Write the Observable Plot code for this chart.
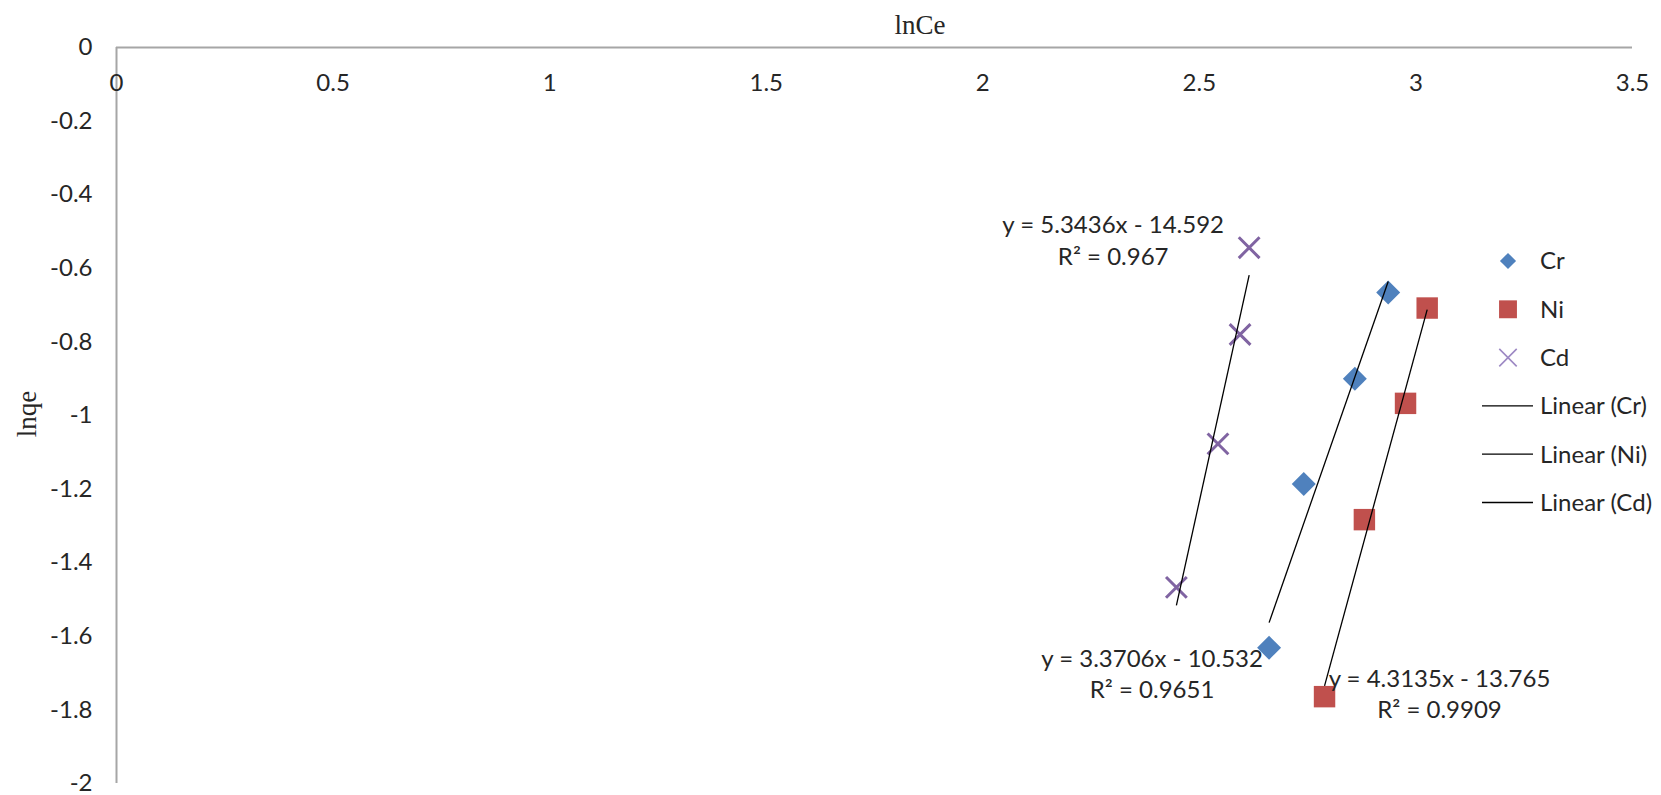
<!DOCTYPE html>
<html><head><meta charset="utf-8">
<script src="https://cdn.jsdelivr.net/npm/d3@7"></script>
<script src="https://cdn.jsdelivr.net/npm/@observablehq/plot@0.6"></script>
<style>body{margin:0;background:#fff;}</style>
</head><body><div id="chart"></div>
<script>
// ---- data ----
const seriesNames = ["Cr", "Ni", "Cd"];
const crX = [2.661, 2.741, 2.859, 2.936];
const crY = [-1.631, -1.186, -0.900, -0.666];
const niX = [2.789, 2.881, 2.976, 3.026];
const niY = [-1.764, -1.283, -0.967, -0.708];
const cdX = [2.447, 2.543, 2.594, 2.615];
const cdY = [-1.467, -1.077, -0.780, -0.544];
const slopeLabels = ["3.3706", "4.3135", "5.3436"];
const interceptLabels = ["-10.532", "-13.765", "-14.592"];
const r2Labels = ["0.9651", "0.9909", "0.967"];
const xTicks = [0, 0.5, 1, 1.5, 2, 2.5, 3, 3.5];
const xTickLabels = ["0", "0.5", "1", "1.5", "2", "2.5", "3", "3.5"];
const yTicks = [0, -0.2, -0.4, -0.6, -0.8, -1, -1.2, -1.4, -1.6, -1.8, -2];
const yTickLabels = ["0", "-0.2", "-0.4", "-0.6", "-0.8", "-1", "-1.2", "-1.4", "-1.6", "-1.8", "-2"];
const xTitle = "lnCe";
const yTitle = "lnqe";
const legendLabels = ["Cr", "Ni", "Cd", "Linear (Cr)", "Linear (Ni)", "Linear (Cd)"];

// ---- derived tables ----
const xsBy = {Cr: crX, Ni: niX, Cd: cdX};
const ysBy = {Cr: crY, Ni: niY, Cd: cdY};
const points = seriesNames.flatMap(s => xsBy[s].map((x, i) => ({series: s, x, y: ysBy[s][i]})));
const trends = seriesNames.map((s, k) => {
  const m = +slopeLabels[k], b = +interceptLabels[k];
  const x1 = d3.min(xsBy[s]), x2 = d3.max(xsBy[s]);
  return {series: s, x1, y1: m * x1 + b, x2, y2: m * x2 + b,
    label: `y = ${slopeLabels[k]}x - ${interceptLabels[k].replace("-", "")}\nR² = ${r2Labels[k]}`};
});

const colors = {Cr: "#4F81BD", Ni: "#C0504D", Cd: "#8064A2"};
const fmt = (ticks, labels) => d => labels[ticks.findIndex(t => Math.abs(t - d) < 1e-9)];
const FONT = "Lato, 'Open Sans', sans-serif";
const TXT = "#262626";

const chart = Plot.plot({
  width: 1661, height: 795,
  marginLeft: 116, marginRight: 29, marginTop: 47, marginBottom: 12,
  style: {fontFamily: FONT, fontSize: "24px", color: TXT, background: "#fff"},
  x: {domain: [0, 3.5]},
  y: {domain: [-2, 0]},
  marks: [
    Plot.ruleY([0], {stroke: "#a6a6a6", strokeWidth: 2}),
    Plot.ruleX([0], {stroke: "#a6a6a6", strokeWidth: 2}),
    Plot.axisY(yTicks, {tickSize: 0, tickPadding: 24, tickFormat: fmt(yTicks, yTickLabels), label: null, fontSize: 24, fill: TXT}),
    Plot.axisX(xTicks, {anchor: "top", tickSize: 0, tickPadding: -36, lineAnchor: "middle", tickFormat: fmt(xTicks, xTickLabels), label: null, fontSize: 24, fill: TXT}),
    Plot.dot(points.filter(d => d.series === "Cr"), {x: "x", y: "y", symbol: "diamond2", r: 10.8, fill: colors.Cr, stroke: "none"}),
    Plot.dot(points.filter(d => d.series === "Ni"), {x: "x", y: "y", symbol: "square", r: 12.1, fill: colors.Ni, stroke: "none"}),
    Plot.dot(points.filter(d => d.series === "Cd"), {x: "x", y: "y", symbol: "times", r: 9.5, stroke: colors.Cd, strokeWidth: 3}),
    Plot.link(trends, {x1: "x1", y1: "y1", x2: "x2", y2: "y2", stroke: "#000", strokeWidth: 1.3}),
    Plot.text(trends.filter(d => d.series === "Cd"), {x: "x2", y: "y2", text: "label", dx: -136, dy: -36, lineAnchor: "middle", lineHeight: 1.3, fontSize: 24, fill: TXT}),
    Plot.text(trends.filter(d => d.series === "Cr"), {x: "x1", y: "y1", text: "label", dx: -117, dy: 50, lineAnchor: "middle", lineHeight: 1.3, fontSize: 24, fill: TXT}),
    Plot.text(trends.filter(d => d.series === "Ni"), {x: "x1", y: "y1", text: "label", dx: 115, dy: 7, lineAnchor: "middle", lineHeight: 1.3, fontSize: 24, fill: TXT})
  ]
});
document.getElementById("chart").appendChild(chart);

// ---- axis titles and legend ----
const svg = d3.select(chart);
svg.append("text").attr("x", 920).attr("y", 25).attr("dy", "0.35em")
  .attr("text-anchor", "middle").attr("font-family", "'Liberation Serif', serif")
  .attr("font-size", 27).attr("fill", TXT).text(xTitle);
svg.append("text").attr("transform", "translate(27,414) rotate(-90)").attr("dy", "0.35em")
  .attr("text-anchor", "middle").attr("font-family", "'Liberation Serif', serif")
  .attr("font-size", 27).attr("fill", TXT).text(yTitle);

const lg = svg.append("g").attr("font-family", FONT).attr("font-size", 24).attr("fill", TXT).attr("text-anchor", "start");
const ly = i => 261 + i * 48.3;
const symX = 1508, txtX = 1540;
lg.append("path").attr("transform", `translate(${symX},${ly(0)})`).attr("d", d3.symbol(d3.symbolDiamond2, 165)()).attr("fill", colors.Cr);
lg.append("path").attr("transform", `translate(${symX},${ly(1)})`).attr("d", d3.symbol(d3.symbolSquare, 320)()).attr("fill", colors.Ni);
lg.append("path").attr("transform", `translate(${symX},${ly(2)})`).attr("d", d3.symbol(d3.symbolTimes, 200)()).attr("fill", "none").attr("stroke", "#9d89c4").attr("stroke-width", 1.6);
for (let i = 3; i < 6; i++) {
  lg.append("line").attr("x1", 1482).attr("x2", 1533).attr("y1", ly(i)).attr("y2", ly(i)).attr("stroke", "#000").attr("stroke-width", 1.3);
}
legendLabels.forEach((t, i) => {
  lg.append("text").attr("x", txtX).attr("y", ly(i)).attr("dy", "0.35em").attr("text-anchor", "start").text(t);
});
</script>
</body></html>
